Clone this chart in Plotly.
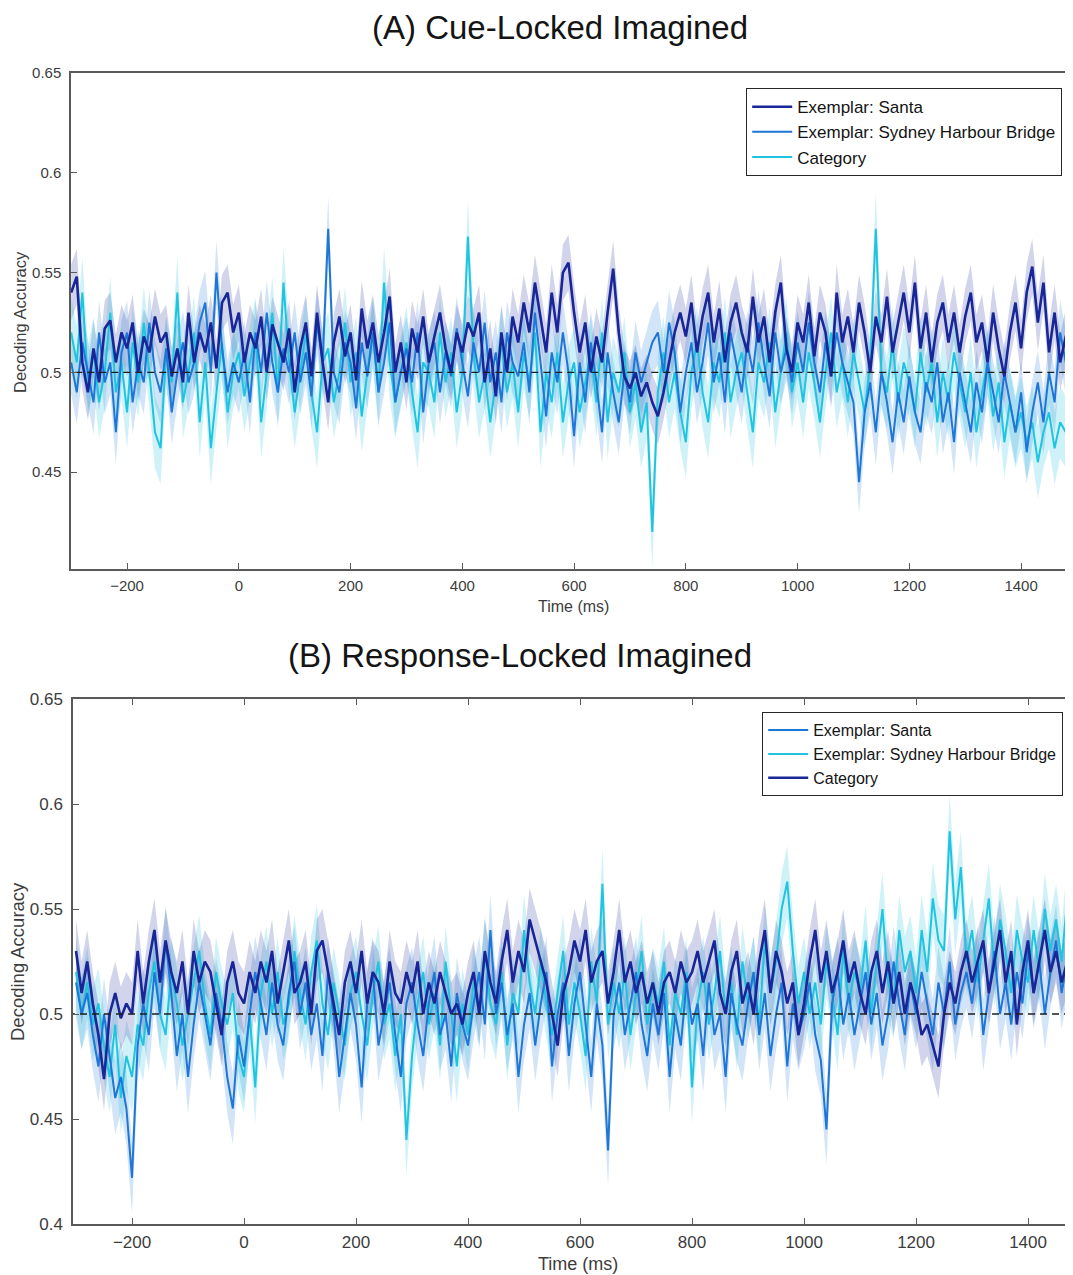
import plotly.graph_objects as go

# the page body adds an 8px margin, so the figure is drawn 8px in from the top-left
OFF = 8
W, H = 1073 - 2 * OFF, 1275 - OFF

# ---------------- data ----------------
time_ms = list(range(-300, 1501, 10))

# Panel A: Cue-Locked Imagined
a_santa = [
    0.540, 0.548, 0.505, 0.490, 0.512, 0.495, 0.522, 0.526, 0.505, 0.520,
    0.512, 0.525, 0.500, 0.518, 0.510, 0.528, 0.515, 0.520, 0.498, 0.512,
    0.495, 0.530, 0.505, 0.520, 0.510, 0.525, 0.502, 0.535, 0.540, 0.520,
    0.530, 0.505, 0.520, 0.512, 0.528, 0.500, 0.524, 0.515, 0.505, 0.522,
    0.490, 0.512, 0.525, 0.498, 0.530, 0.505, 0.485, 0.515, 0.528, 0.508,
    0.520, 0.496, 0.532, 0.512, 0.525, 0.505, 0.520, 0.538, 0.500, 0.515,
    0.495, 0.522, 0.510, 0.528, 0.505, 0.518, 0.530, 0.512, 0.500, 0.520,
    0.510, 0.525, 0.518, 0.530, 0.495, 0.512, 0.488, 0.520, 0.500, 0.528,
    0.515, 0.535, 0.520, 0.545, 0.528, 0.510, 0.540, 0.520, 0.550, 0.555,
    0.530, 0.510, 0.525, 0.500, 0.518, 0.505, 0.530, 0.552, 0.520, 0.498,
    0.492, 0.500, 0.488, 0.495, 0.485, 0.478, 0.490, 0.505, 0.520, 0.530,
    0.518, 0.535, 0.510, 0.528, 0.540, 0.515, 0.532, 0.505, 0.525, 0.535,
    0.520, 0.510, 0.538, 0.515, 0.528, 0.505, 0.530, 0.545, 0.512, 0.500,
    0.525, 0.515, 0.535, 0.508, 0.530, 0.520, 0.498, 0.540, 0.515, 0.528,
    0.510, 0.535, 0.520, 0.500, 0.528, 0.515, 0.538, 0.510, 0.525, 0.540,
    0.520, 0.545, 0.512, 0.530, 0.505, 0.525, 0.535, 0.515, 0.530, 0.510,
    0.528, 0.540, 0.515, 0.525, 0.505, 0.530, 0.512, 0.498, 0.520, 0.535,
    0.512, 0.540, 0.553, 0.525, 0.545, 0.510, 0.530, 0.505, 0.518, 0.525,
    0.520,
]
a_sydney = [
    0.505, 0.490, 0.515, 0.500, 0.485, 0.520, 0.495, 0.505, 0.470, 0.510,
    0.520, 0.485, 0.505, 0.495, 0.525, 0.500, 0.490, 0.512, 0.480, 0.500,
    0.515, 0.495, 0.505, 0.525, 0.535, 0.500, 0.550, 0.512, 0.490, 0.505,
    0.495, 0.510, 0.485, 0.520, 0.500, 0.530, 0.505, 0.490, 0.512, 0.500,
    0.520, 0.495, 0.510, 0.488, 0.525, 0.505, 0.572, 0.500, 0.490, 0.515,
    0.505, 0.482, 0.515, 0.498, 0.520, 0.490, 0.505, 0.525, 0.485, 0.500,
    0.512, 0.495, 0.520, 0.480, 0.505, 0.515, 0.490, 0.510, 0.498, 0.522,
    0.505, 0.488, 0.515, 0.500, 0.525, 0.495, 0.510, 0.485, 0.520, 0.505,
    0.498, 0.515, 0.490, 0.530, 0.505, 0.478, 0.510, 0.495, 0.520, 0.500,
    0.468, 0.505, 0.485, 0.515, 0.495, 0.470, 0.510, 0.490, 0.475, 0.500,
    0.485, 0.510, 0.495, 0.505, 0.515, 0.520, 0.500, 0.525, 0.510, 0.480,
    0.500, 0.515, 0.490, 0.505, 0.525, 0.495, 0.510, 0.485, 0.520, 0.505,
    0.490, 0.515, 0.500, 0.525, 0.505, 0.488, 0.520, 0.500, 0.512, 0.495,
    0.515, 0.500, 0.525, 0.505, 0.490, 0.515, 0.498, 0.520, 0.505, 0.495,
    0.485, 0.445, 0.480, 0.495, 0.470, 0.500, 0.485, 0.465, 0.490, 0.475,
    0.498, 0.480, 0.470, 0.495, 0.485, 0.505, 0.475, 0.490, 0.465, 0.500,
    0.485, 0.470, 0.495, 0.480, 0.505, 0.490, 0.475, 0.500, 0.485, 0.470,
    0.490, 0.460, 0.480, 0.495, 0.475, 0.500, 0.485, 0.520, 0.505, 0.510,
    0.500,
]
a_category = [
    0.520, 0.505, 0.540, 0.495, 0.510, 0.485, 0.500, 0.530, 0.490, 0.505,
    0.480, 0.515, 0.495, 0.525, 0.500, 0.470, 0.462, 0.510, 0.495, 0.540,
    0.485, 0.500, 0.520, 0.475, 0.505, 0.462, 0.490, 0.515, 0.480, 0.500,
    0.510, 0.488, 0.505, 0.520, 0.475, 0.500, 0.530, 0.490, 0.545, 0.505,
    0.480, 0.500, 0.520, 0.490, 0.470, 0.505, 0.512, 0.485, 0.500, 0.525,
    0.495, 0.510, 0.478, 0.500, 0.520, 0.490, 0.545, 0.505, 0.485, 0.500,
    0.515, 0.490, 0.470, 0.505, 0.500, 0.485, 0.520, 0.495, 0.510, 0.480,
    0.500, 0.568, 0.510, 0.485, 0.500, 0.475, 0.495, 0.515, 0.490, 0.505,
    0.480, 0.510, 0.495, 0.520, 0.470, 0.500, 0.485, 0.510, 0.475, 0.495,
    0.505, 0.480, 0.495, 0.510, 0.485, 0.520, 0.475, 0.500, 0.490, 0.510,
    0.480, 0.495, 0.470, 0.485, 0.420, 0.490, 0.510, 0.485, 0.500, 0.480,
    0.465, 0.500, 0.515, 0.490, 0.475, 0.505, 0.495, 0.520, 0.485, 0.500,
    0.510, 0.490, 0.470, 0.505, 0.495, 0.515, 0.480, 0.500, 0.520, 0.490,
    0.505, 0.485, 0.510, 0.495, 0.475, 0.500, 0.520, 0.490, 0.505, 0.485,
    0.510, 0.495, 0.480, 0.505, 0.572, 0.500, 0.490, 0.515, 0.485, 0.505,
    0.495, 0.480, 0.510, 0.490, 0.505, 0.475, 0.500, 0.485, 0.510, 0.495,
    0.480, 0.500, 0.470, 0.490, 0.505, 0.478, 0.495, 0.465, 0.485, 0.470,
    0.480, 0.465, 0.475, 0.455, 0.470, 0.480, 0.462, 0.475, 0.470, 0.490,
    0.468,
]

# Panel B: Response-Locked Imagined
b_santa = [
    0.515, 0.500, 0.510, 0.490, 0.475, 0.500, 0.480, 0.460, 0.470, 0.455,
    0.422, 0.485, 0.505, 0.490, 0.520, 0.500, 0.535, 0.510, 0.480, 0.500,
    0.470, 0.495, 0.515, 0.500, 0.485, 0.510, 0.495, 0.470, 0.455, 0.490,
    0.475, 0.500, 0.520, 0.505, 0.490, 0.515, 0.495, 0.485, 0.510, 0.525,
    0.500, 0.515, 0.490, 0.505, 0.480, 0.520, 0.500, 0.470, 0.490, 0.510,
    0.495, 0.465, 0.505, 0.520, 0.485, 0.500, 0.515, 0.490, 0.470, 0.505,
    0.515, 0.495, 0.480, 0.505, 0.520, 0.490, 0.500, 0.475, 0.510, 0.495,
    0.485, 0.505, 0.520, 0.495, 0.540, 0.500, 0.515, 0.490, 0.505, 0.470,
    0.495, 0.510, 0.485, 0.505, 0.520, 0.475, 0.500, 0.515, 0.480, 0.505,
    0.520, 0.495, 0.470, 0.505, 0.485, 0.435, 0.500, 0.515, 0.490, 0.505,
    0.520, 0.495, 0.480, 0.505, 0.490, 0.510, 0.470, 0.500, 0.485, 0.515,
    0.495, 0.505, 0.480, 0.515, 0.490, 0.500, 0.470, 0.510, 0.495, 0.485,
    0.505, 0.520, 0.490, 0.510, 0.480, 0.500, 0.515, 0.475, 0.505, 0.490,
    0.500, 0.515, 0.490, 0.478, 0.445, 0.505, 0.520, 0.495, 0.510, 0.490,
    0.505, 0.520, 0.495, 0.510, 0.485, 0.500, 0.525, 0.505, 0.490, 0.515,
    0.500, 0.520, 0.505, 0.490, 0.515, 0.500, 0.525, 0.495, 0.510, 0.520,
    0.505, 0.525, 0.490, 0.510, 0.530, 0.500, 0.515, 0.495, 0.520, 0.505,
    0.530, 0.510, 0.525, 0.500, 0.520, 0.535, 0.510, 0.525, 0.515, 0.520,
    0.515,
]
b_sydney = [
    0.520, 0.500, 0.515, 0.495, 0.505, 0.485, 0.470, 0.495, 0.460, 0.480,
    0.470, 0.495, 0.485, 0.510, 0.525, 0.500, 0.490, 0.520, 0.505, 0.485,
    0.500, 0.515, 0.530, 0.505, 0.490, 0.520, 0.505, 0.495, 0.510, 0.480,
    0.470, 0.500, 0.465, 0.510, 0.525, 0.500, 0.520, 0.495, 0.505, 0.530,
    0.510, 0.495, 0.520, 0.535, 0.505, 0.490, 0.515, 0.500, 0.485, 0.510,
    0.520, 0.500, 0.485, 0.510, 0.525, 0.495, 0.505, 0.480, 0.500, 0.440,
    0.480, 0.505, 0.520, 0.495, 0.510, 0.485, 0.525, 0.500, 0.475, 0.505,
    0.490, 0.515, 0.500, 0.530, 0.505, 0.495, 0.520, 0.485, 0.510, 0.500,
    0.540, 0.515, 0.500, 0.525, 0.505, 0.490, 0.510, 0.530, 0.495, 0.515,
    0.500, 0.480, 0.525, 0.505, 0.562, 0.495, 0.515, 0.500, 0.520, 0.490,
    0.510, 0.530, 0.495, 0.515, 0.505, 0.525, 0.485, 0.510, 0.500, 0.520,
    0.465, 0.505, 0.520, 0.495, 0.510, 0.530, 0.500, 0.515, 0.490, 0.525,
    0.505, 0.520, 0.495, 0.535, 0.510, 0.525, 0.550, 0.563, 0.530, 0.505,
    0.520, 0.500, 0.515, 0.495, 0.525, 0.510, 0.490, 0.530, 0.505, 0.520,
    0.510, 0.535, 0.500, 0.525, 0.550, 0.515, 0.505, 0.540, 0.520, 0.530,
    0.510, 0.540, 0.520, 0.555, 0.535, 0.530, 0.587, 0.545, 0.570, 0.525,
    0.540, 0.515, 0.535, 0.555, 0.520, 0.545, 0.530, 0.510, 0.540, 0.525,
    0.515, 0.540, 0.520, 0.550, 0.530, 0.545, 0.525, 0.555, 0.535, 0.520,
    0.530,
]
b_category = [
    0.530, 0.510, 0.525, 0.505, 0.490, 0.469, 0.500, 0.510, 0.498, 0.505,
    0.500, 0.530, 0.505, 0.525, 0.540, 0.515, 0.535, 0.520, 0.510, 0.525,
    0.500, 0.530, 0.515, 0.525, 0.520, 0.505, 0.490, 0.515, 0.525, 0.510,
    0.505, 0.520, 0.510, 0.525, 0.515, 0.530, 0.505, 0.520, 0.535, 0.510,
    0.515, 0.525, 0.500, 0.530, 0.535, 0.520, 0.505, 0.490, 0.515, 0.525,
    0.510, 0.530, 0.505, 0.520, 0.515, 0.500, 0.525, 0.510, 0.505, 0.520,
    0.510, 0.525, 0.500, 0.515, 0.505, 0.520, 0.510, 0.500, 0.505, 0.495,
    0.510, 0.520, 0.500, 0.530, 0.515, 0.505, 0.525, 0.540, 0.515, 0.530,
    0.520, 0.545, 0.535, 0.525, 0.515, 0.500, 0.485, 0.510, 0.520, 0.535,
    0.525, 0.540, 0.515, 0.525, 0.530, 0.505, 0.520, 0.540, 0.515, 0.525,
    0.510, 0.520, 0.505, 0.515, 0.500, 0.515, 0.520, 0.510, 0.525, 0.515,
    0.520, 0.530, 0.515, 0.525, 0.535, 0.510, 0.500, 0.520, 0.530, 0.505,
    0.515, 0.500, 0.525, 0.540, 0.510, 0.530, 0.520, 0.505, 0.515, 0.490,
    0.505, 0.525, 0.540, 0.515, 0.530, 0.510, 0.520, 0.535, 0.515, 0.525,
    0.510, 0.500, 0.520, 0.530, 0.510, 0.525, 0.505, 0.520, 0.500, 0.515,
    0.505, 0.490, 0.495, 0.485, 0.475, 0.500, 0.515, 0.505, 0.520, 0.530,
    0.515, 0.525, 0.535, 0.510, 0.525, 0.540, 0.515, 0.530, 0.495, 0.520,
    0.535, 0.510, 0.525, 0.540, 0.520, 0.530, 0.515, 0.525, 0.535, 0.520,
    0.525,
]

# estimated standard-error half-widths of the shaded bands
a_sem = {"santa": 0.014, "sydney": 0.016, "category": 0.018}
b_sem = {"santa": 0.017, "sydney": 0.017, "category": 0.015}

chance_level = 0.5
series_names = ["Exemplar: Santa", "Exemplar: Sydney Harbour Bridge", "Category"]
a_ticks = [0.45, 0.5, 0.55, 0.6, 0.65]
b_ticks = [0.4, 0.45, 0.5, 0.55, 0.6, 0.65]
x_ticks = [-200, 0, 200, 400, 600, 800, 1000, 1200, 1400]

# ---------------- style ----------------
NAVY = (24, 38, 152)
MID = (30, 118, 214)
CYAN = (32, 196, 224)
FONT = "Liberation Sans, Arial, Helvetica, sans-serif"


def rgb(c, a=None):
    if a is None:
        return "rgb(%d,%d,%d)" % c
    return "rgba(%d,%d,%d,%.2f)" % (c + (a,))


def px(x):
    return (x - OFF) / W


def py(y):
    return 1 - (y - OFF) / H


fig = go.Figure()


def add_band(xaxis, yaxis, vals, sem, col, band_alpha):
    lo = [v - sem for v in vals]
    hi = [v + sem for v in vals]
    fig.add_trace(go.Scatter(
        x=time_ms + time_ms[::-1], y=hi + lo[::-1], fill="toself",
        fillcolor=rgb(col, band_alpha), line=dict(width=0), hoverinfo="skip",
        showlegend=False, xaxis=xaxis, yaxis=yaxis))


def line_trace(xaxis, yaxis, legend, rank, name, vals, col, width):
    return go.Scatter(x=time_ms, y=vals, mode="lines", name=name,
                      line=dict(color=rgb(col), width=width),
                      xaxis=xaxis, yaxis=yaxis, legend=legend, legendrank=rank)


# panel A
a_specs = [
    (series_names[0], a_santa, a_sem["santa"], NAVY, 2.6, 0.20),
    (series_names[1], a_sydney, a_sem["sydney"], MID, 2.0, 0.20),
    (series_names[2], a_category, a_sem["category"], CYAN, 2.0, 0.22),
]
for n, v, s, c, w, al in a_specs:
    add_band("x", "y", v, s, c, al)
for i in [2, 1, 0]:
    n, v, s, c, w, al = a_specs[i]
    fig.add_trace(line_trace("x", "y", "legend", i + 1, n, v, c, w))

# panel B
b_specs = [
    (series_names[0], b_santa, b_sem["santa"], MID, 2.0, 0.20),
    (series_names[1], b_sydney, b_sem["sydney"], CYAN, 2.0, 0.22),
    (series_names[2], b_category, b_sem["category"], NAVY, 2.6, 0.20),
]
for n, v, s, c, w, al in b_specs:
    add_band("x2", "y2", v, s, c, al)
for i in [1, 0, 2]:
    n, v, s, c, w, al = b_specs[i]
    fig.add_trace(line_trace("x2", "y2", "legend2", i + 1, n, v, c, w))

# chance lines
for xa, ya in [("x", "y"), ("x2", "y2")]:
    fig.add_trace(go.Scatter(x=[-400, 1600], y=[chance_level, chance_level], mode="lines",
                             line=dict(color="rgb(30,30,30)", width=1.3, dash="7px,5px"),
                             showlegend=False, hoverinfo="skip", xaxis=xa, yaxis=ya))

axis_common = dict(showgrid=False, zeroline=False, showline=True, linecolor="rgb(90,90,90)",
                   linewidth=1.5, ticks="inside", ticklen=6, tickwidth=1.3,
                   tickcolor="rgb(90,90,90)", automargin=False)

fig.update_layout(
    width=W, height=H, margin=dict(l=0, r=0, t=0, b=0),
    paper_bgcolor="white", plot_bgcolor="white",
    font=dict(family=FONT, color="rgb(60,60,60)"),
    xaxis=dict(domain=[px(71), 1], range=[-300.3, 1478.6], tickvals=x_ticks,
               tickfont=dict(size=15, color="rgb(60,60,60)"), mirror=True,
               ticklabelstandoff=2, anchor="y", **axis_common),
    yaxis=dict(domain=[py(569), py(73)], range=[0.4015, 0.65], tickvals=a_ticks,
               ticktext=[str(t) for t in a_ticks],
               tickfont=dict(size=15, color="rgb(60,60,60)"), mirror=True,
               ticklabelstandoff=5, anchor="x", **axis_common),
    xaxis2=dict(domain=[px(73), 1], range=[-305.4, 1466], tickvals=x_ticks,
                tickfont=dict(size=17, color="rgb(60,60,60)"), mirror="ticks",
                ticklabelstandoff=2, anchor="y2", **axis_common),
    yaxis2=dict(domain=[py(1224), py(699)], range=[0.4, 0.65], tickvals=b_ticks,
                ticktext=[str(t) for t in b_ticks],
                tickfont=dict(size=17, color="rgb(60,60,60)"), mirror=True,
                ticklabelstandoff=5, anchor="x2", **axis_common),
    legend=dict(x=px(1062), y=py(88), xanchor="right", yanchor="top",
                bgcolor="white", bordercolor="rgb(40,40,40)", borderwidth=1.2,
                font=dict(size=17, color="rgb(20,20,20)"), tracegroupgap=0,
                itemwidth=40, traceorder="normal"),
    legend2=dict(x=px(1063), y=py(712), xanchor="right", yanchor="top",
                 bgcolor="white", bordercolor="rgb(40,40,40)", borderwidth=1.2,
                 font=dict(size=16, color="rgb(20,20,20)"), tracegroupgap=0,
                 itemwidth=40, traceorder="normal"),
    showlegend=True,
)

annots = [
    dict(text="(A) Cue-Locked Imagined", x=px(560), y=py(27), size=33, color="rgb(20,20,20)", angle=0),
    dict(text="(B) Response-Locked Imagined", x=px(520), y=py(655), size=33, color="rgb(20,20,20)", angle=0),
    dict(text="Time (ms)", x=px(573), y=py(607), size=16, color="rgb(60,60,60)", angle=0),
    dict(text="Time (ms)", x=px(578), y=py(1264), size=18, color="rgb(60,60,60)", angle=0),
    dict(text="Decoding Accuracy", x=px(20), y=py(322), size=16.5, color="rgb(60,60,60)", angle=-90),
    dict(text="Decoding Accuracy", x=px(17), y=py(962), size=18.5, color="rgb(60,60,60)", angle=-90),
]
for a in annots:
    fig.add_annotation(text=a["text"], x=a["x"], y=a["y"], xref="paper", yref="paper",
                       xanchor="center", yanchor="middle", showarrow=False, textangle=a["angle"],
                       font=dict(family=FONT, size=a["size"], color=a["color"]))

fig.write_html("out.html")
